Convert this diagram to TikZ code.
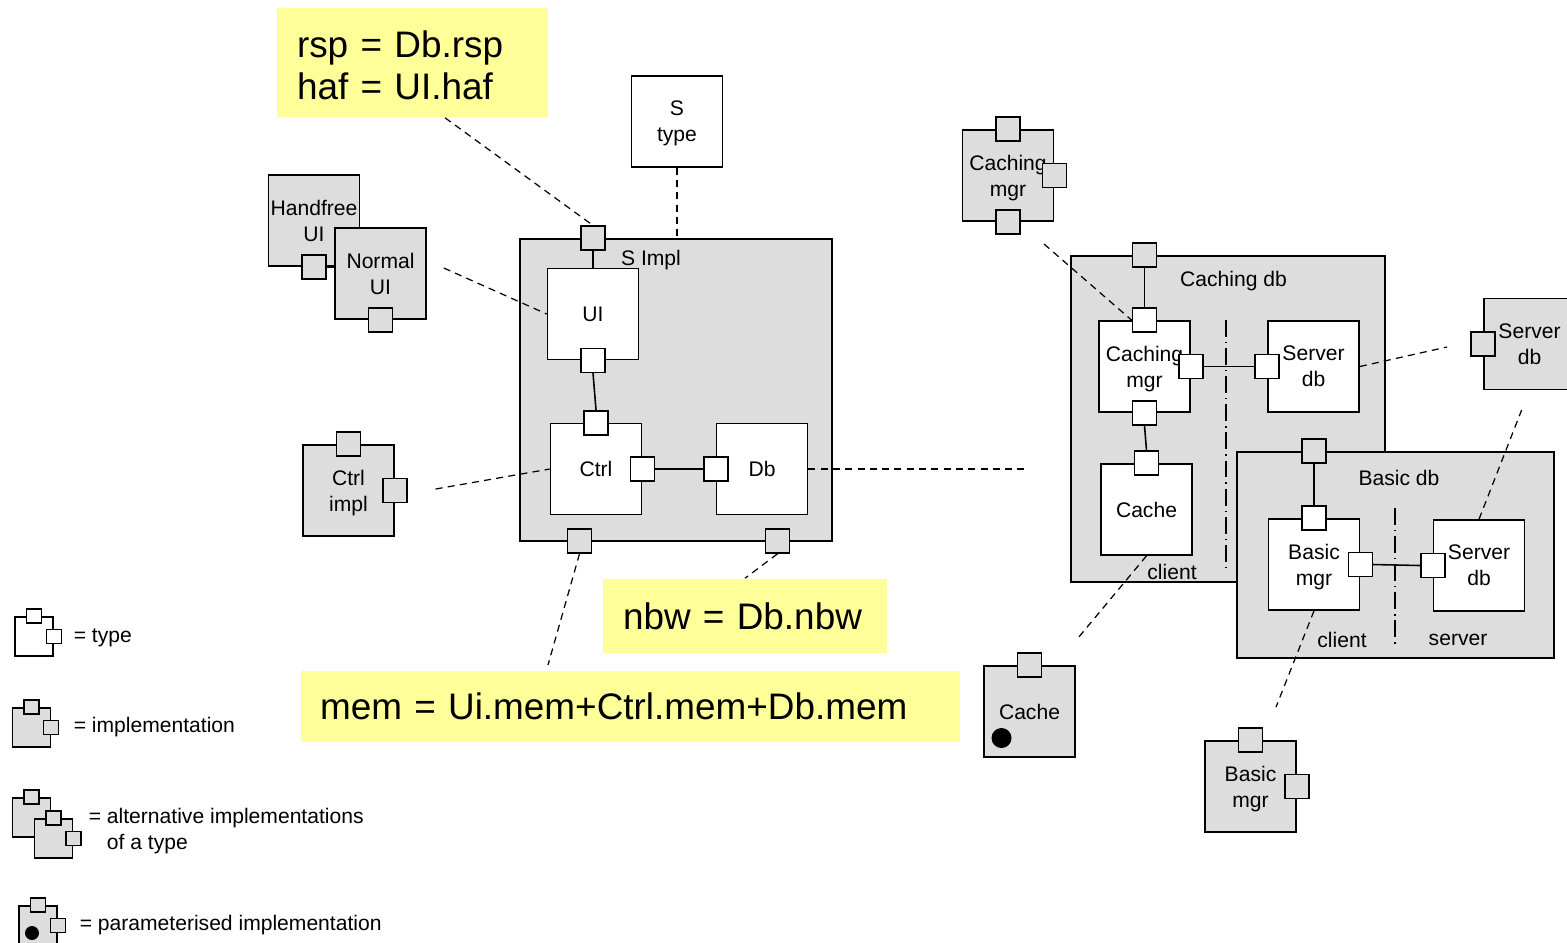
\documentclass[tikz,border=0pt]{standalone}
\usepackage{fontspec}
\setmainfont{Liberation Sans}
\usepackage{xcolor}
\usepackage{tikz}
\usetikzlibrary{positioning, calc}
\definecolor{implgray}{HTML}{DDDDDD}
\definecolor{noteyellow}{HTML}{FFFF99}
\newcommand{\smallfont}{\fontsize{6}{7.4}\selectfont}
\newcommand{\bigfont}{\fontsize{10.5}{12}\selectfont}

\begin{document}
\begin{tikzpicture}[x=0.1mm, y=-0.1mm, line width=0.45pt]
    \tikzstyle{typebox} = [rectangle, draw=black, fill=white, minimum width=9.1mm, minimum height=9.1mm, inner sep=0pt, align=center, text depth=0pt, font=\smallfont]
    \tikzstyle{implbox} = [typebox, fill=implgray]
    \tikzstyle{port} = [rectangle, draw=black, fill=white, minimum size=2.4mm, inner sep=0pt]
    \tikzstyle{implport} = [port, fill=implgray]
    \tikzstyle{note} = [rectangle, fill=noteyellow, font=\bigfont, align=left, inner xsep=2mm, inner ysep=0pt]
    \tikzstyle{lbl} = [font=\smallfont, inner sep=0pt]
    \tikzstyle{link} = [dash pattern=on 2pt off 1.5pt, line width=0.35pt]
    \tikzstyle{split} = [dash pattern=on 4.8pt off 1.4pt on 0.4pt off 1.4pt, line width=0.35pt]
    \tikzstyle{wire} = [line width=0.45pt]
    \tikzstyle{legtype} = [rectangle, draw=black, fill=white, minimum width=3.8mm, minimum height=3.9mm, inner sep=0pt]
    \tikzstyle{legimpl} = [legtype, fill=implgray]
    \tikzstyle{legport} = [rectangle, draw=black, fill=white, minimum width=1.5mm, minimum height=1.4mm, inner sep=0pt]
    \tikzstyle{legimplport} = [legport, fill=implgray]
    \tikzstyle{legtext} = [font=\smallfont, anchor=west, inner sep=0pt, align=left]

    \useasboundingbox (0,0) rectangle (1567,942);

    % notes
    \node (rsp) [note, text width=23.1mm, minimum height=10.9mm] at (412.5,62.5) {\rule{0pt}{9.4pt}rsp = Db.rsp\\haf = UI.haf};
    \node (nbw) [note, text width=24.4mm, minimum height=7.4mm] at (745,616) {nbw = Db.nbw};
    \node (mem) [note, text width=62.1mm, inner xsep=1.9mm, minimum height=7.1mm] at (630.5,706.5) {mem = Ui.mem+Ctrl.mem+Db.mem};

    % S type and its implementation
    \node (stype) [typebox] at (677,121.5) {S\\type};
    \node (simpl) [implbox, minimum width=31.2mm, minimum height=30.2mm] at (676,390) {};
    \node (simpllbl) [lbl] at (651,260) {S Impl};
    \node (ui) [typebox] at (593,314) {UI};
    \node (ctrl) [typebox] at (596,469) {Ctrl};
    \node (db) [typebox] at (762,469) {Db};
    \node (simplin) [implport] at (ui.north |- simpl.north) {};
    \node (uiout) [port] at (ui.south) {};
    \node (ctrlin) [port] at (ctrl.north) {};
    \node (ctrlout) [port] at (ctrl.east) {};
    \node (dbin) [port] at (db.west) {};
    \node (simplmem) [implport] at (579.5,541) {};
    \node (simplnbw) [implport] at (777.5,541) {};

    % UI and Ctrl implementations
    \node (handfree) [implbox] at (314,220.5) {Handfree\\UI};
    \node (handfreeout) [implport] at (handfree.south) {};
    \node (normal) [implbox] at (380.5,273.5) {Normal\\UI};
    \node (normalout) [implport] at (normal.south) {};
    \node (ctrlimpl) [implbox] at (348.5,490.5) {Ctrl\\impl};
    \node (ctrlimplin) [implport] at (ctrlimpl.north) {};
    \node (ctrlimplout) [implport] at (ctrlimpl.east) {};

    % Caching mgr implementation
    \node (cmgrimpl) [implbox] at (1008,175.5) {Caching\\mgr};
    \node (cmgrimplin) [implport] at (cmgrimpl.north) {};
    \node (cmgrimplout) [implport] at (cmgrimpl.east) {};
    \node (cmgrimplcache) [implport] at (cmgrimpl.south) {};

    % Caching db
    \node (cachingdb) [implbox, minimum width=31.4mm, minimum height=32.6mm] at (1228,419) {};
    \node (cachingdblbl) [lbl] at (1233.5,281) {Caching db};
    \node (cmgr) [typebox] at (1144.5,366.5) {Caching\\mgr};
    \node (sdb) [typebox] at (1313.5,366.5) {Server\\db};
    \node (cache) [typebox] at (1146.5,509.5) {Cache};
    \node (cachingdbin) [implport] at (cmgr.north |- cachingdb.north) {};
    \node (cmgrin) [port] at (cmgr.north) {};
    \node (cmgrout) [port] at (cmgr.east) {};
    \node (cmgrcache) [port] at (cmgr.south) {};
    \node (sdbin) [port] at (sdb.west) {};
    \node (cachein) [port] at (cache.north) {};
    \node (cachingclient) [lbl] at (1172,572) {client};
    \draw [split] (1226,320) -- (1226,570);

    % Basic db
    \node (basicdb) [implbox, minimum width=31.7mm, minimum height=20.6mm] at (1395.5,555) {};
    \node (basicdblbl) [lbl] at (1399,478) {Basic db};
    \node (bmgr) [typebox] at (1314,564.5) {Basic\\mgr};
    \node (sdbb) [typebox] at (1479,565.5) {Server\\db};
    \node (basicdbin) [implport] at (bmgr.north |- basicdb.north) {};
    \node (bmgrin) [port] at (bmgr.north) {};
    \node (bmgrout) [port] at (bmgr.east) {};
    \node (sdbbin) [port] at (sdbb.west) {};
    \node (basicclient) [lbl] at (1342,640) {client};
    \node (basicserver) [lbl] at (1458,640) {server};
    \draw [split] (1395,508) -- (1395,645);

    % other implementations
    \node (sdbimpl) [implbox] at (1529.5,344) {Server\\db};
    \node (sdbimplin) [implport] at (sdbimpl.west) {};
    \node (cacheimpl) [implbox] at (1029.5,711.5) {Cache};
    \node (cacheimplin) [implport] at (cacheimpl.north) {};
    \node (cachedot) [circle, fill=black, minimum size=2mm, inner sep=0pt] at (1001.5,738) {};
    \node (bmgrimpl) [implbox] at (1250.5,786.5) {Basic\\mgr};
    \node (bmgrimplin) [implport] at (bmgrimpl.north) {};
    \node (bmgrimplout) [implport] at (bmgrimpl.east) {};

    % wires
    \draw [wire] (simplin.south) -- (ui.north);
    \draw [wire] (uiout.south) -- (ctrlin.north);
    \draw [wire] (ctrlout.east) -- (dbin.west);
    \draw [wire] (handfreeout.east) -- (normal.west |- handfreeout.east);
    \draw [wire] (cachingdbin.south) -- (cmgrin.north);
    \draw [wire] (cmgrcache.south) -- (cachein.north);
    \draw [wire] (cmgrout.east) -- (sdbin.west);
    \draw [wire] (basicdbin.south) -- (bmgrin.north);
    \draw [wire] (bmgrout.east) -- (sdbbin.west);

    % dashed links
    \coordinate (normalend) at ($(normal.east)+(17,-5.5)$);
    \coordinate (ctrlimplend) at ($(ctrlimplout.east)+(28,-1.5)$);
    \coordinate (dbend) at (1025,469);
    \coordinate (memend) at (548,665);
    \coordinate (cmgrend) at (1044,244);
    \coordinate (sdbend) at (1447,347);
    \coordinate (sdbbend) at (1521.6,410);
    \coordinate (cacheend) at (1078,638);
    \coordinate (bmgrend) at (1276,707);
    \draw [link] ($(rsp.south)+(32.5,0)$) -- (simplin.north);
    \draw [link] (stype.south) -- (stype.south |- simpl.north);
    \draw [link] (normalend) -- (ui.west);
    \draw [link] (ctrlimplend) -- (ctrl.west);
    \draw [link] (db.east) -- (dbend);
    \draw [link] (simplmem.south) -- (memend);
    \draw [link] (simplnbw.south) -- (nbw.north);
    \draw [link] (cmgrend) -- (cmgrin.west);
    \draw [link] (sdb.east) -- (sdbend);
    \draw [link] (sdbb.north) -- (sdbbend);
    \draw [link] (cache.south) -- (cacheend);
    \draw [link] (bmgr.south) -- (bmgrend);

    % legend
    \node (legt) [legtype] at (34,636.5) {};
    \node (legtin) [legport] at (legt.north) {};
    \node (legtout) [legport] at (legt.east) {};
    \node (legttext) [legtext] at (73,637.5) {= type};
    \node (legi) [legimpl] at (31.3,727.5) {};
    \node (legiin) [legimplport] at (legi.north) {};
    \node (legiout) [legimplport] at (legi.east) {};
    \node (legitext) [legtext] at (73,727.5) {= implementation};
    \node (lega) [legimpl] at (31.3,817.5) {};
    \node (legain) [legimplport] at (lega.north) {};
    \node (legb) [legimpl] at (53.5,838.5) {};
    \node (legbin) [legimplport] at (legb.north) {};
    \node (legbout) [legimplport] at (legb.east) {};
    \node (legatext) [legtext] at (88,831) {= alternative implementations\\\phantom{= }of a type};
    \node (legp) [legimpl] at (38,925.5) {};
    \node (legpin) [legimplport] at (legp.north) {};
    \node (legpout) [legimplport] at (legp.east) {};
    \node (legpdot) [circle, fill=black, minimum size=1.4mm, inner sep=0pt] at (32,933) {};
    \node (legptext) [legtext] at (79,925.5) {= parameterised implementation};
\end{tikzpicture}
\end{document}
